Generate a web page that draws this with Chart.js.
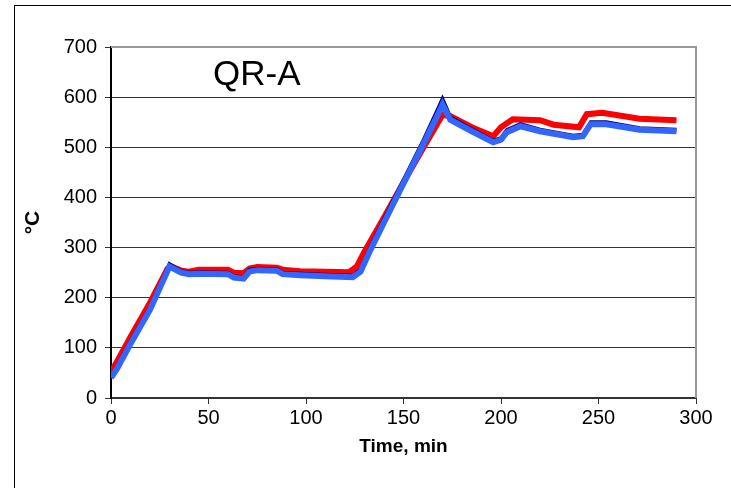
<!DOCTYPE html>
<html>
<head>
<meta charset="utf-8">
<script src="https://cdn.jsdelivr.net/npm/chart.js@4"></script>
<style>
  html, body { margin: 0; padding: 0; background: #fff; overflow: hidden; }
  #wrap { position: relative; width: 731px; height: 488px; overflow: hidden; }
  #frame { position: absolute; left: 14px; top: 5px; width: 800px; height: 600px; border: 1px solid #000; }
  canvas { position: absolute; left: 0; top: 0; }
</style>
</head>
<body>
<div id="wrap">
  <div id="frame"></div>
  <canvas id="chart" width="731" height="488"></canvas>
</div>
<script>
// QR-A temperature curves

const redTime = [0, 3, 10, 20, 29, 31, 36, 40, 45, 60, 63, 68, 71, 75, 85, 88, 97, 110, 122, 126, 130, 140, 150, 160, 170, 174, 185, 196, 200, 206, 220, 227, 240, 244, 252, 271, 290];
const redTemp = [52, 72, 122, 190, 258, 262, 254, 252, 256, 256, 250, 249, 258, 261, 260, 256, 253, 252, 251, 262, 292, 360, 430, 498, 565, 562, 540, 522, 540, 556, 554, 545, 540, 566, 569, 557, 554];

const blueTime = [0, 3, 10, 20, 30, 32, 36, 40, 45, 60, 63, 68, 71, 75, 85, 88, 97, 110, 124, 128, 133, 140, 150, 160, 167, 170, 174, 185, 196, 200, 203, 210, 220, 237, 242, 246, 254, 271, 290];
const blueTemp = [40, 58, 108, 176, 262, 258, 250, 247, 248, 247, 240, 238, 252, 255, 254, 247, 245, 243, 241, 252, 295, 350, 428, 505, 560, 585, 555, 532, 510, 515, 530, 542, 532, 520, 522, 546, 546, 535, 532];
const navyTemp = [43, 61, 112, 180, 267, 262, 253, 250, 251, 250, 243, 241, 256, 258, 257, 250, 248, 246, 244, 256, 300, 356, 434, 512, 570, 596, 560, 536, 513, 518, 534, 546, 535, 523, 525, 550, 550, 538, 535];

const xTicks = [0, 50, 100, 150, 200, 250, 300];
const yTicks = [0, 100, 200, 300, 400, 500, 600, 700];

const FONT = "'Liberation Sans', Arial, sans-serif";
const pts = (t, v) => t.map((x, i) => ({ x, y: v[i] }));

const plotFrame = {
  id: "plotFrame",
  beforeDatasetsDraw(chart) {
    const { ctx, chartArea: a } = chart;
    ctx.save();
    ctx.strokeStyle = "#999";
    ctx.lineWidth = 2;
    ctx.beginPath();
    ctx.moveTo(a.left, a.top);
    ctx.lineTo(a.right, a.top);
    ctx.lineTo(a.right, a.bottom);
    ctx.stroke();
    ctx.restore();
  },
  afterDraw(chart) {
    const { ctx, scales } = chart;
    ctx.save();
    ctx.fillStyle = "#000";
    ctx.font = "35px " + FONT;
    ctx.textBaseline = "alphabetic";
    ctx.fillText("QR-A", scales.x.getPixelForValue(52.3), scales.y.getPixelForValue(625));
    ctx.restore();
  },
};

new Chart(document.getElementById("chart"), {
  type: "line",
  data: {
    datasets: [
      { label: "blue", data: pts(blueTime, blueTemp), borderColor: "#3366FF", borderWidth: 6, order: 0 },
      { label: "navy", data: pts(blueTime, navyTemp), borderColor: "#000080", borderWidth: 4, order: 1 },
      { label: "red", data: pts(redTime, redTemp), borderColor: "#FF0000", borderWidth: 6, order: 2 },
    ],
  },
  options: {
    responsive: false,
    animation: false,
    events: [],
    elements: { point: { radius: 0 }, line: { tension: 0, borderCapStyle: "butt", borderJoinStyle: "miter" } },
    layout: { padding: { top: 47, right: 35, left: 0, bottom: 0 } },
    plugins: { legend: { display: false }, tooltip: { enabled: false } },
    scales: {
      x: {
        type: "linear",
        min: 0, max: 300,
        afterBuildTicks: s => { s.ticks = xTicks.map(v => ({ value: v })); },
        afterFit: s => { s.height = 90; },
        grid: { display: true, drawOnChartArea: false, color: "#333", tickLength: 6 },
        border: { color: "#333", width: 2 },
        ticks: { color: "#000", font: { family: FONT, size: 20 }, padding: 2, maxRotation: 0 },
        title: { display: true, text: "Time, min", color: "#000", font: { family: FONT, size: 19, weight: "bold" }, padding: { bottom: 30 } },
      },
      y: {
        min: 0, max: 700,
        afterBuildTicks: s => { s.ticks = yTicks.map(v => ({ value: v })); },
        afterFit: s => { s.width = 111; },
        grid: { color: "#333", lineWidth: 1, tickLength: 6 },
        border: { color: "#000", width: 2 },
        ticks: { color: "#000", font: { family: FONT, size: 20 }, padding: 8 },
        title: { display: true, text: "°C", color: "#000", font: { family: FONT, size: 21, weight: "bold" }, padding: { top: 21 } },
      },
    },
  },
  plugins: [plotFrame],
});
</script>
</body>
</html>
